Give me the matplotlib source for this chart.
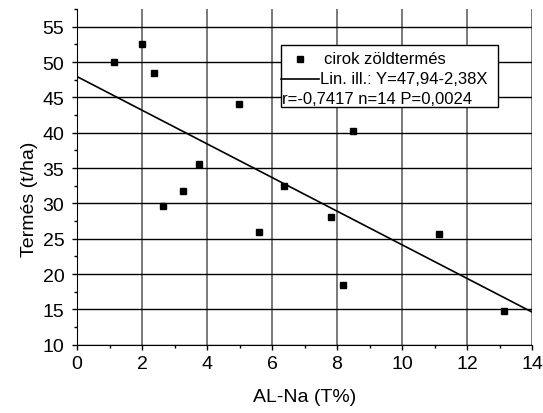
import numpy as np
import matplotlib.pyplot as plt
from matplotlib.lines import Line2D
from matplotlib.patches import Rectangle
from matplotlib.ticker import MultipleLocator

plt.rcParams['font.family'] = ['Liberation Sans', 'DejaVu Sans']

# AL-Na (T%) vs. termés (t/ha)
al_na = [1.15, 1.99, 2.38, 2.66, 3.26, 3.74, 4.97, 5.61, 6.38, 7.80, 8.19, 8.48, 11.15, 13.15]
termes = [50.0, 52.5, 48.4, 29.6, 31.7, 35.5, 44.0, 26.0, 32.5, 28.0, 18.5, 40.2, 25.7, 14.8]

# fitted line Y = a + b*X
fit_a = 47.94
fit_b = -2.38
fit_x = [0, 14]

W, H = 543, 414
fig = plt.figure(figsize=(W / 100, H / 100), dpi=100)
ax = fig.add_axes([77 / W, 1 - 345.7 / H, 455 / W, 335.7 / H])

for v in range(0, 15, 2):
    ax.axvline(v, color="#555555", lw=1.1, zorder=1)
for v in range(10, 56, 5):
    ax.axhline(v, color="black", lw=1, zorder=1)

ax.plot(al_na, termes, "s", color="black", ms=4.8, zorder=3)
fx = np.array(fit_x, dtype=float)
ax.plot(fx, fit_a + fit_b * fx, color="black", lw=1.2, zorder=2)

ax.set_xlim(0, 14)
ax.set_ylim(10, 57.5)
ax.xaxis.set_major_locator(MultipleLocator(2))
ax.xaxis.set_minor_locator(MultipleLocator(1))
ax.yaxis.set_major_locator(MultipleLocator(5))
ax.yaxis.set_minor_locator(MultipleLocator(2.5))
ax.tick_params(which="major", direction="out", length=3.6, width=1, labelsize=14)
ax.tick_params(which="minor", direction="out", length=2.2, width=1)
ax.tick_params(axis="x", pad=4)
ax.tick_params(axis="y", pad=5.5)
ax.spines["top"].set_visible(False)
ax.spines["right"].set_visible(False)
ax.set_xlabel("AL-Na (T%)", fontsize=14, labelpad=11)
ax.set_ylabel("Termés (t/ha)", fontsize=14, labelpad=3)
ax.yaxis.label.set_y(0.437)


# legend box drawn by hand (pixel positions -> figure fraction)
def fp(x, y):
    return x / W, 1 - y / H


bx, by = fp(281, 108.3)
bx2, by2 = fp(498.3, 46)
fig.add_artist(Rectangle((bx, by), bx2 - bx, by2 - by, transform=fig.transFigure,
                         facecolor="white", edgecolor="black", lw=1, zorder=4))
mx, my = fp(299.5, 60)
fig.add_artist(Line2D([mx], [my], marker="s", color="black", ms=4.8, ls="none",
                      transform=fig.transFigure, zorder=5))
l1, ly = fp(281, 79.5)
l2, _ = fp(318.5, 79.5)
fig.add_artist(Line2D([l1, l2], [ly, ly], color="black", lw=1.2,
                      transform=fig.transFigure, zorder=5))
fig.text(*fp(324.5, 59), "cirok zöldtermés", va="center", fontsize=12, zorder=5)
fig.text(*fp(320.5, 80), "Lin. ill.: Y=47,94-2,38X", va="center", fontsize=12, zorder=5)
fig.text(*fp(282.5, 100), "r=-0,7417 n=14 P=0,0024", va="center", fontsize=12, zorder=5)

fig.savefig("out.png", dpi=100)
